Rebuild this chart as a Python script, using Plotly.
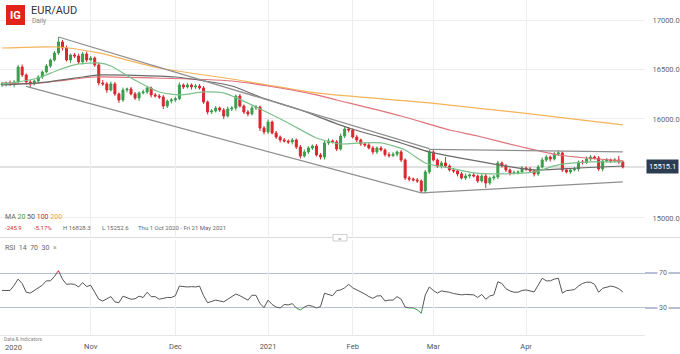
import plotly.graph_objects as go
import pandas as pd
import numpy as np

# ---------------- data ----------------
dates = pd.bdate_range("2020-10-01", periods=155)

first_open = 16345
closes = [
    16354, 16364, 16350, 16374, 16525, 16445, 16374, 16354, 16384, 16424,
    16475, 16535, 16596, 16667, 16778, 16717, 16596, 16647, 16636, 16576,
    16657, 16596, 16616, 16546, 16364, 16354, 16293, 16354, 16253, 16192,
    16293, 16303, 16253, 16212, 16263, 16273, 16313, 16243, 16232, 16222,
    16131, 16182, 16192, 16205, 16344, 16323, 16344, 16323, 16333, 16313,
    16172, 16071, 16081, 16111, 16091, 16030, 16101, 16111, 16232, 16131,
    16071, 16051, 16111, 16121, 15909, 15869, 15970, 15859, 15818, 15788,
    15778, 15768, 15788, 15717, 15626, 15667, 15707, 15727, 15636, 15616,
    15758, 15778, 15768, 15697, 15828, 15899, 15889, 15818, 15788, 15748,
    15738, 15707, 15667, 15707, 15687, 15640, 15630, 15645, 15667, 15586,
    15404, 15394, 15384, 15374, 15273, 15465, 15667, 15586, 15525, 15556,
    15525, 15485, 15475, 15445, 15404, 15424, 15435, 15424, 15374, 15424,
    15354, 15404, 15414, 15556, 15525, 15485, 15455, 15460, 15465, 15505,
    15495, 15475, 15445, 15515, 15586, 15616, 15596, 15647, 15657, 15485,
    15465, 15485, 15495, 15566, 15560, 15596, 15616, 15606, 15495, 15576,
    15586, 15576, 15586, 15566, 15515.1,
]
upper_wick = [
    20, 15, 25, 20, 20, 25, 15, 20, 15, 20,
    15, 20, 15, 20, 50, 20, 25, 15, 20, 25,
    20, 25, 20, 15, 20, 30, 20, 25, 20, 15,
    25, 15, 20, 20, 15, 25, 20, 15, 20, 20,
    20, 15, 20, 20, 25, 15, 20, 15, 20, 20,
    20, 15, 20, 20, 15, 20, 25, 20, 15, 20,
    15, 20, 25, 20, 15, 20, 25, 15, 20, 15,
    20, 15, 20, 15, 20, 25, 20, 15, 20, 20,
    20, 25, 15, 20, 25, 30, 20, 15, 20, 15,
    15, 20, 20, 15, 20, 15, 25, 20, 15, 20,
    15, 20, 15, 20, 15, 20, 25, 20, 15, 20,
    60, 15, 20, 15, 20, 25, 15, 20, 15, 25,
    20, 15, 20, 20, 15, 20, 15, 20, 15, 20,
    15, 20, 15, 20, 25, 20, 15, 20, 25, 15,
    20, 15, 20, 15, 20, 25, 20, 15, 20, 15,
    20, 15, 20, 40, 15,
]
lower_wick = [
    20, 25, 15, 30, 15, 20, 25, 30, 15, 20,
    20, 15, 20, 15, 20, 25, 15, 30, 20, 20,
    25, 20, 15, 20, 25, 20, 30, 15, 20, 30,
    20, 25, 15, 20, 30, 15, 20, 25, 15, 20,
    30, 20, 25, 20, 15, 20, 15, 25, 20, 15,
    20, 25, 20, 15, 20, 30, 15, 20, 25, 15,
    20, 25, 15, 20, 30, 25, 20, 15, 20, 25,
    15, 20, 25, 20, 25, 15, 20, 20, 15, 25,
    25, 20, 15, 20, 15, 20, 25, 15, 20, 20,
    20, 15, 25, 20, 15, 20, 20, 15, 25, 20,
    20, 25, 15, 20, 20, 25, 20, 15, 20, 25,
    20, 15, 20, 25, 15, 20, 25, 15, 20, 15,
    50, 20, 25, 20, 15, 20, 25, 15, 20, 15,
    20, 15, 25, 20, 15, 20, 25, 15, 20, 20,
    15, 20, 15, 25, 20, 15, 20, 15, 20, 25,
    15, 20, 15, 20, 15,
]
rsi = [
    50, 49.8, 50, 56, 63, 58, 48, 47, 50, 52,
    56, 61, 61, 66, 72.7, 63, 57, 57.5, 57, 54,
    59, 54.5, 56, 48, 40, 38, 41, 43, 37, 36,
    43.5, 42, 40, 40.5, 43.5, 42, 48, 43, 43, 40,
    41, 42, 42, 44, 55, 54.5, 54, 54.4, 54, 55,
    44, 36, 37.5, 39, 38, 37, 40, 43, 46, 44,
    41, 39, 44.5, 44.5, 35, 30.4, 39, 34, 31, 30,
    34, 33.5, 35, 30, 27.7, 31, 33, 32, 30, 31.5,
    46.8, 45, 44, 49.8, 50.6, 53, 57, 53, 50.6, 49,
    46, 43, 41, 43.7, 44, 38, 39, 39, 43, 40,
    31, 30, 30, 28, 24, 45, 54, 50, 47, 49.5,
    49, 47.9, 46.5, 46, 45, 45.5, 45.5, 45, 42, 45.5,
    40, 43.7, 45, 60, 58, 52, 49.5, 48, 48, 50,
    50.6, 49.8, 48.3, 56, 64, 61, 61, 63, 64, 47,
    49.8, 50.3, 51, 55, 58, 59.5, 59.5, 57, 48, 52.5,
    54, 55, 54, 52, 48.3,
]

# moving averages, sampled at trading-day numbers
ma20_days = [0, 4, 9, 14, 19, 24, 27, 32, 39, 44, 50, 55, 63, 71, 78, 84, 89, 94, 100, 105, 111, 117, 124, 132, 138, 146, 154]
ma20_vals = [16354, 16374, 16414, 16495, 16556, 16566, 16535, 16414, 16273, 16243, 16273, 16263, 16121, 15960, 15808, 15748, 15758, 15758, 15687, 15556, 15505, 15455, 15445, 15465, 15536, 15566, 15566]
ma50_days = [0, 9, 20, 24, 43, 57, 64, 74, 86, 99, 106, 119, 132, 143, 154]
ma50_vals = [16344, 16364, 16424, 16445, 16424, 16333, 16222, 16091, 15909, 15758, 15667, 15566, 15485, 15505, 15525]
ma100_days = [0, 7, 14, 23, 38, 57, 66, 78, 83, 99, 111, 118, 129, 138, 148, 154]
ma100_vals = [16364, 16354, 16384, 16424, 16414, 16384, 16333, 16243, 16192, 16030, 15889, 15828, 15717, 15636, 15596, 15576]
ma200_days = [0, 14, 24, 39, 57, 78, 106, 131, 154]
ma200_vals = [16717, 16727, 16667, 16515, 16404, 16263, 16162, 16051, 15940]

# trend lines: (start day, start price, end day, end price)
trend_lines = [
    (14, 16828, 106, 15700),
    (6, 16330, 104, 15253),
    (106, 15694, 154, 15667),
    (104, 15253, 154, 15364),
]

last_price = 15515.1
x_tick_dates = ["2020-11-02", "2020-12-01", "2021-01-01", "2021-02-01", "2021-03-01", "2021-04-01"]
x_tick_text = ["Nov", "Dec", "2021", "Feb", "Mar", "Apr"]
price_ticks = [15000, 16000, 16500, 17000]

# ---------------- derived OHLC ----------------
opens = [first_open] + closes[:-1]
highs = [max(o, c) + w for o, c, w in zip(opens, closes, upper_wick)]
lows = [min(o, c) - w for o, c, w in zip(opens, closes, lower_wick)]

GREEN = "#3a9e4a"
RED = "#d9272e"
FONT = "Roboto"

fig = go.Figure()

fig.add_trace(go.Candlestick(
    x=dates, open=opens, high=highs, low=lows, close=closes,
    increasing=dict(line=dict(color=GREEN, width=1), fillcolor=GREEN),
    decreasing=dict(line=dict(color=RED, width=1), fillcolor=RED),
    whiskerwidth=0, xaxis="x", yaxis="y", hoverinfo="skip",
))

for days, vals, col, w in [
    (ma200_days, ma200_vals, "#f5b35a", 1.2),
    (ma100_days, ma100_vals, "#e0737a", 1.2),
    (ma50_days, ma50_vals, "#6b6b6b", 1.2),
    (ma20_days, ma20_vals, "#7cc08a", 1.2),
]:
    fig.add_trace(go.Scatter(x=dates[days], y=vals, mode="lines",
                             line=dict(color=col, width=w, shape="spline", smoothing=0.6),
                             xaxis="x", yaxis="y", hoverinfo="skip"))

for d0, p0, d1, p1 in trend_lines:
    fig.add_trace(go.Scatter(x=[dates[d0], dates[d1]], y=[p0, p1], mode="lines",
                             line=dict(color="#8f8f8f", width=1.2),
                             xaxis="x", yaxis="y", hoverinfo="skip"))

# RSI
fig.add_trace(go.Scatter(x=dates, y=rsi, mode="lines", line=dict(color="#555555", width=1),
                         xaxis="x2", yaxis="y2", hoverinfo="skip"))
fig.add_trace(go.Scatter(x=dates, y=rsi, mode="lines", line=dict(color=RED, width=1),
                         xaxis="x2", yaxis="y3", hoverinfo="skip"))
fig.add_trace(go.Scatter(x=dates, y=rsi, mode="lines", line=dict(color=GREEN, width=1),
                         xaxis="x2", yaxis="y4", hoverinfo="skip"))

# ---------------- layout ----------------
W, H = 680, 354
ML, MR, MT, MB = 0, 35, 0, 19
PW, PH = W - ML - MR, H - MT - MB

def px_x(px):
    return (px - ML) / PW

def px_y(py):
    return (H - MB - py) / PH

rsi_lo, rsi_hi = -0.9, 107.7
rsi_dom = [0, px_y(240)]
f70 = rsi_dom[0] + (70 - rsi_lo) / (rsi_hi - rsi_lo) * (rsi_dom[1] - rsi_dom[0])
f30 = rsi_dom[0] + (30 - rsi_lo) / (rsi_hi - rsi_lo) * (rsi_dom[1] - rsi_dom[0])

xrange = ["2020-09-30 12:00", "2021-05-12 12:00"]
rb = [dict(bounds=["sat", "mon"])]
grid = "#ededed"

fig.update_layout(
    width=W, height=H, margin=dict(l=ML, r=MR, t=MT, b=MB),
    paper_bgcolor="white", plot_bgcolor="white", showlegend=False,
    font=dict(family=FONT, color="#555"),
    xaxis=dict(domain=[0, 1], anchor="y", range=xrange, rangebreaks=rb,
               rangeslider=dict(visible=False), tickvals=x_tick_dates,
               showticklabels=False, showgrid=True, gridcolor=grid, ticks="",
               zeroline=False, showline=False),
    yaxis=dict(domain=[px_y(236), 1], anchor="x", side="right",
               range=[14818, 17202], tickvals=price_ticks,
               ticktext=[f"{v:.1f}" for v in price_ticks],
               showgrid=True, gridcolor=grid, ticks="outside", ticklen=5,
               tickcolor="rgba(0,0,0,0)", tickfont=dict(size=7.5, color="#666"),
               zeroline=False, showline=False),
    xaxis2=dict(domain=[0, 1], anchor="y2", range=xrange, rangebreaks=rb,
                tickvals=x_tick_dates, ticktext=x_tick_text,
                showgrid=True, gridcolor=grid, ticks="outside", ticklen=4,
                tickcolor="rgba(0,0,0,0)", tickfont=dict(size=7.5, color="#555"),
                zeroline=False, showline=True, linecolor="#e6e6e6", linewidth=1),
    yaxis2=dict(domain=rsi_dom, anchor="x2", range=[rsi_lo, rsi_hi],
                showticklabels=False, showgrid=False, zeroline=False, ticks=""),
    yaxis3=dict(domain=[f70, rsi_dom[1]], anchor="x2", range=[70, rsi_hi], visible=False),
    yaxis4=dict(domain=[rsi_dom[0], f30], anchor="x2", range=[rsi_lo, 30], visible=False),
)

shapes = []
# RSI 70 / 30 levels
for lvl in (70, 30):
    shapes.append(dict(type="line", xref="paper", yref="y2", x0=0, x1=W / PW,
                       y0=lvl, y1=lvl, line=dict(color="#9ea9c4", width=1.6), layer="below"))
# current price line
shapes.append(dict(type="line", xref="paper", yref="y", x0=0, x1=1, y0=last_price, y1=last_price,
                   line=dict(color="#c4c4c4", width=1), layer="below"))
# panel separator + handle
shapes.append(dict(type="line", xref="paper", yref="paper", x0=0, x1=W / PW,
                   y0=px_y(237.5), y1=px_y(237.5), line=dict(color="#dcdcdc", width=1)))
shapes.append(dict(type="rect", xref="paper", yref="paper", x0=px_x(333), x1=px_x(347),
                   y0=px_y(241), y1=px_y(234.5), fillcolor="white", line=dict(color="#cfcfcf", width=1)))
# logo
shapes.append(dict(type="rect", xref="paper", yref="paper", x0=px_x(6), x1=px_x(25),
                   y0=px_y(25), y1=px_y(5), fillcolor="#e2231a", line=dict(width=0)))
fig.update_layout(shapes=shapes)

ann = []
def text(px, py, s, size, color="#555", anchor="left", bold=False, **kw):
    ann.append(dict(xref="paper", yref="paper", x=px_x(px), y=px_y(py), text=(f"<b>{s}</b>" if bold else s),
                    showarrow=False, xanchor=anchor, yanchor="middle",
                    font=dict(size=size, color=color, family=FONT), **kw))

text(15.5, 15.5, "IG", 11, "white", "center", bold=True)
text(29, 10.5, "EUR/AUD", 11, "#333")
text(29.5, 21, "Daily", 6.5, "#888")
text(340, 238, "≡", 6, "#999", "center")

text(3, 217, "MA <span style='color:#3a9e4a'>20</span> <span style='color:#555'>50</span> "
             "<span style='color:#d9272e'>100</span> <span style='color:#f0a030'>200</span>", 7, "#666")
text(3, 228, "-245.9", 6, RED)
text(32, 228, "-5.17%", 6, RED)
text(61, 228, "H 16828.3", 6, "#666")
text(100, 228, "L 15252.6", 6, "#666")
text(136, 228, "Thu 1 Oct 2020 - Fri 21 May 2021", 6, "#666")
text(3, 248, "RSI &nbsp;14 &nbsp;70 &nbsp;30 &nbsp;<span style='color:#999'>×</span>", 7, "#666")
text(2, 338.5, "Data & Indicators", 5, "#888")
text(3, 347, "2020", 7.5, "#555")

# RSI level labels
for lvl, py in ((70, 273), (30, 308)):
    ann.append(dict(xref="paper", yref="y2", x=px_x(663), y=lvl, text=str(lvl), showarrow=False,
                    xanchor="center", yanchor="middle", bgcolor="white",
                    font=dict(size=7, color="#666", family=FONT)))

# last-price box
ann.append(dict(xref="paper", yref="y", x=px_x(662.5), y=last_price, text=f"{last_price:.1f}",
                showarrow=False, xanchor="center", yanchor="middle", bgcolor="#2c3d52",
                borderpad=2, font=dict(size=7.5, color="white", family=FONT)))
fig.update_layout(annotations=ann)

fig.write_html("out.html")
